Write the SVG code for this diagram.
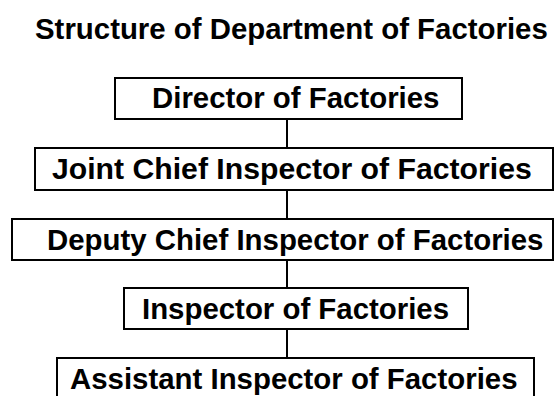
<svg xmlns="http://www.w3.org/2000/svg" width="556" height="396" viewBox="0 0 556 396">
  <style>
    .box { fill: #ffffff; stroke: #000000; stroke-width: 2; }
    .label { font-family: "Liberation Sans", Arial, sans-serif; font-weight: bold; font-size: 29.4px; fill: #000000; }
    .link { stroke: #000000; stroke-width: 2; fill: none; }
  </style>
  <rect width="556" height="396" fill="#ffffff"/>

  <text class="label" x="35" y="39">Structure of Department of Factories</text>

  <!-- vertical links between ranks -->
  <g id="connectors">
    <line class="link" x1="287" y1="119" x2="287" y2="148"/>
    <line class="link" x1="287" y1="190" x2="287" y2="219"/>
    <line class="link" x1="287" y1="260" x2="287" y2="288"/>
    <line class="link" x1="287" y1="329" x2="287" y2="358"/>
  </g>

  <g id="director">
    <rect class="box" x="115" y="78" width="347" height="41"/>
    <text class="label" x="152" y="108">Director of Factories</text>
  </g>

  <g id="joint-chief">
    <rect class="box" x="35" y="148" width="518" height="42"/>
    <text class="label" x="52" y="179" style="font-size:30.2px">Joint Chief Inspector of Factories</text>
  </g>

  <g id="deputy-chief">
    <rect class="box" x="12" y="219" width="541" height="41"/>
    <text class="label" x="47" y="250">Deputy Chief Inspector of Factories</text>
  </g>

  <g id="inspector">
    <rect class="box" x="124" y="288" width="344" height="41"/>
    <text class="label" x="142" y="319">Inspector of Factories</text>
  </g>

  <g id="assistant">
    <rect class="box" x="57" y="358" width="477" height="60"/>
    <text class="label" x="70" y="389">Assistant Inspector of Factories</text>
  </g>
</svg>
